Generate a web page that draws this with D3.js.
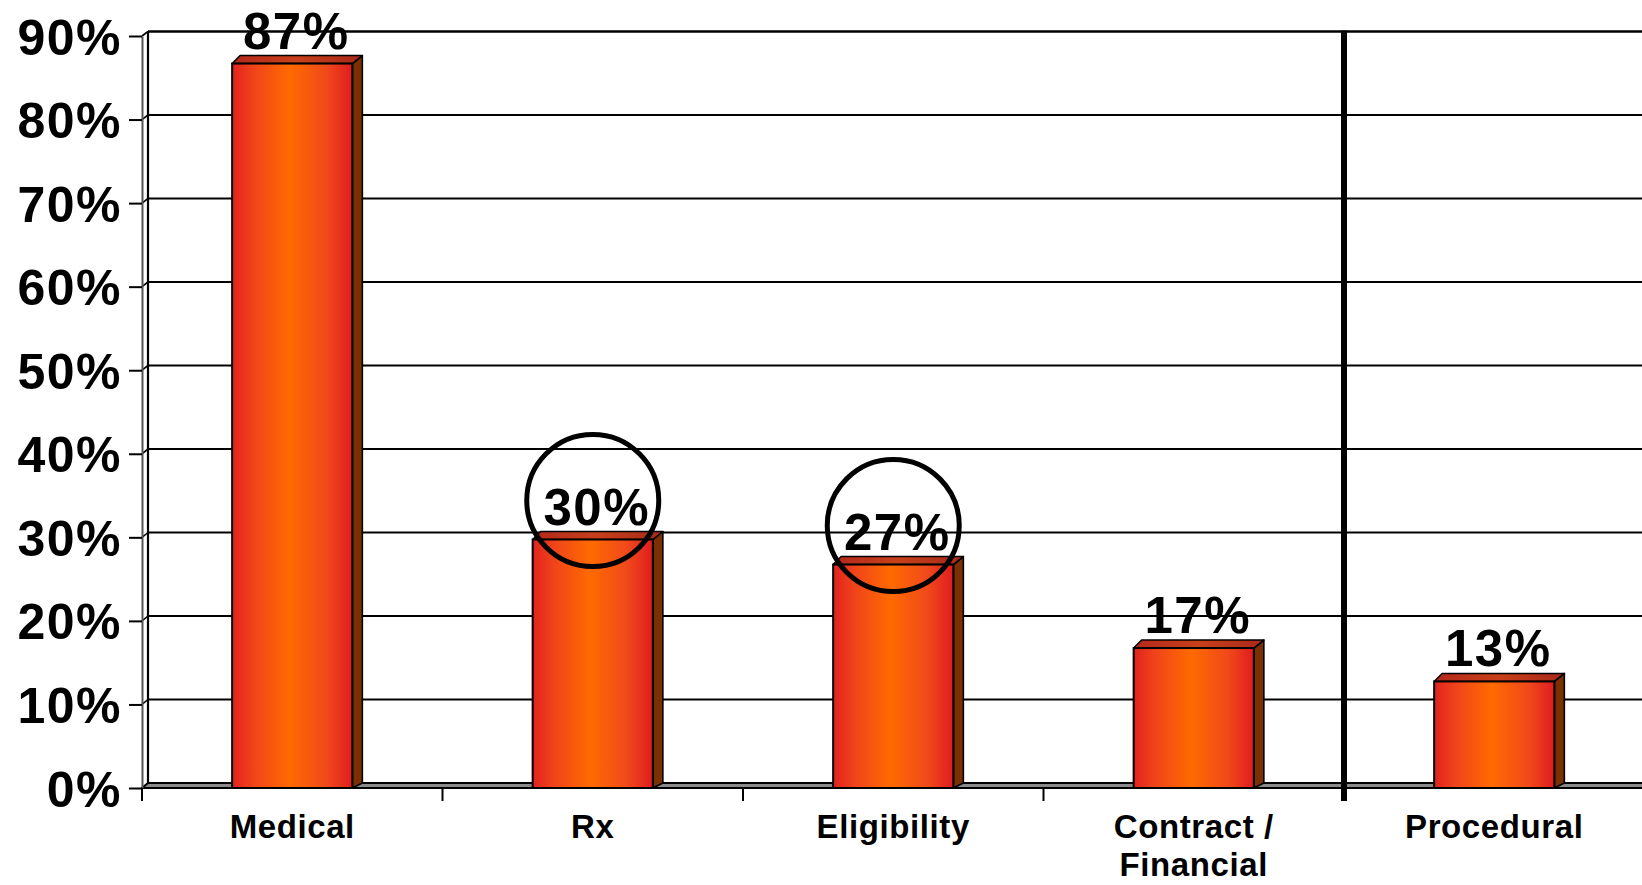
<!DOCTYPE html>
<html><head><meta charset="utf-8">
<script src="https://cdn.jsdelivr.net/npm/d3@7"></script>
<style>
html,body{margin:0;padding:0;background:#fff;overflow:hidden}
text{font-family:"Liberation Sans",Arial,Helvetica,sans-serif;font-weight:bold;fill:#000}
</style>
</head><body>
<svg id="chart" width="1642" height="885"></svg>
<script>
// Share of cases by category
const categories = ["Medical", "Rx", "Eligibility", "Contract / Financial", "Procedural"];
const values = [87, 30, 27, 17, 13];
const circled = ["Rx", "Eligibility"];
const yTicks = [0, 10, 20, 30, 40, 50, 60, 70, 80, 90];
const dividerBefore = "Procedural";

const W = 1642, H = 885;
const svg = d3.select("#chart");

// back-wall and front-plane value scales (3-D look: the front plane sits down-left of the wall)
const y = d3.scaleLinear().domain([0, 90]).range([783, 31.5]);
const yF = d3.scaleLinear().domain([0, 90]).range([788, 36]);
const x = d3.scaleBand().domain(categories).range([142, 142 + 5 * 300.5])
  .paddingInner(0.6).paddingOuter(0.3);
const bw = x.bandwidth();
const wallX = 148, frontX = 142;
const floorY = y(0), floorFrontY = yF(0);

// bar shading
const defs = svg.append("defs");
const grad = defs.append("linearGradient").attr("id", "barFace").attr("x1", 0).attr("x2", 1).attr("y1", 0).attr("y2", 0);
[[0, "#e2221f"], [0.18, "#f0441a"], [0.48, "#ff6a00"], [0.78, "#f04a1a"], [1, "#e01c1f"]]
  .forEach(([o, c]) => grad.append("stop").attr("offset", o).attr("stop-color", c));
const gradTop = defs.append("linearGradient").attr("id", "barTop").attr("x1", 0).attr("x2", 1);
[[0, "#b4281c"], [0.5, "#c8401a"], [1, "#a8281a"]]
  .forEach(([o, c]) => gradTop.append("stop").attr("offset", o).attr("stop-color", c));

// gridlines on the back wall
svg.append("g").selectAll("line").data(yTicks.filter(t => t > 0)).join("line")
  .attr("x1", wallX).attr("x2", W).attr("y1", d => y(d)).attr("y2", d => y(d))
  .attr("stroke", "#000").attr("stroke-width", d => d === 90 ? 2.6 : 2);

// back wall left edge
svg.append("line").attr("x1", wallX).attr("x2", wallX).attr("y1", y(0)).attr("y2", y(90))
  .attr("stroke", "#000").attr("stroke-width", 2.2);

// side-wall connectors from the front axis to the wall
svg.append("g").selectAll("line").data(yTicks).join("line")
  .attr("x1", frontX).attr("y1", d => yF(d)).attr("x2", wallX).attr("y2", d => y(d))
  .attr("stroke", "#000").attr("stroke-width", 1.6);

// floor
svg.append("path")
  .attr("d", `M${frontX},${floorFrontY}L${wallX},${floorY}L${W + 2},${floorY}L${W + 2},${floorFrontY}Z`)
  .attr("fill", "#8a8a8a").attr("stroke", "#000").attr("stroke-width", 2);

// value axis on the front plane
const yAxis = svg.append("g").attr("transform", `translate(${frontX},0)`)
  .call(d3.axisLeft(yF).tickValues(yTicks).tickSize(13).tickSizeOuter(0).tickPadding(7)
    .tickFormat(d => d + "%"));
yAxis.select(".domain").attr("stroke", "#555").attr("stroke-width", 2);
yAxis.selectAll(".tick line").attr("stroke", "#000").attr("stroke-width", 2);
yAxis.selectAll(".tick text").style("font-size", "50px").style("letter-spacing", "1.5px")
  .attr("dy", "0.36em").attr("fill", "#000");

// category axis: boundary ticks and labels
const bounds = d3.range(categories.length + 1).map(i => x.range()[0] + i * x.step());
svg.append("g").selectAll("line").data(bounds).join("line")
  .attr("x1", d => d).attr("x2", d => d).attr("y1", floorFrontY).attr("y2", floorFrontY + 13)
  .attr("stroke", "#000").attr("stroke-width", 2);
const catText = svg.append("g").selectAll("text").data(categories).join("text")
  .attr("text-anchor", "middle").style("font-size", "33px").style("letter-spacing", "0.6px")
  .attr("transform", d => `translate(${x(d) + bw / 2},838)`);
catText.each(function (d) {
  const lines = d.includes(" / ") ? [d.split(" / ")[0] + " /", d.split(" / ")[1]] : [d];
  d3.select(this).selectAll("tspan").data(lines).join("tspan")
    .attr("x", 0).attr("dy", (l, i) => i === 0 ? 0 : 38).text(l => l);
});

// 3-D columns
const data = categories.map((c, i) => ({ c, v: values[i] }));
const dx = 10, dy = 8;
const bars = svg.append("g").selectAll("g").data(data).join("g");
bars.append("path") // side
  .attr("d", d => {
    const xr = x(d.c) + bw, yt = y(d.v) + 7;
    return `M${xr},${yt}L${xr + dx},${yt - dy}L${xr + dx},${floorY}L${xr},${floorFrontY}Z`;
  })
  .attr("fill", "#7a3000").attr("stroke", "#000").attr("stroke-width", 1.6).attr("stroke-linejoin", "round");
bars.append("path") // top
  .attr("d", d => {
    const xl = x(d.c), xr = xl + bw, yt = y(d.v) + 7;
    return `M${xl},${yt}L${xr},${yt}L${xr + dx},${yt - dy}L${xl + dx - 2},${yt - dy}Z`;
  })
  .attr("fill", "url(#barTop)").attr("stroke", "#000").attr("stroke-width", 1.6).attr("stroke-linejoin", "round");
bars.append("rect") // front
  .attr("x", d => x(d.c)).attr("width", bw)
  .attr("y", d => y(d.v) + 7).attr("height", d => floorFrontY - (y(d.v) + 7))
  .attr("fill", "url(#barFace)").attr("stroke", "#000").attr("stroke-width", 2);

// value labels
svg.append("g").selectAll("text").data(data).join("text")
  .attr("text-anchor", "middle").style("font-size", "51px").style("letter-spacing", "1.5px")
  .attr("x", d => x(d.c) + bw / 2 + 4).attr("y", d => y(d.v) - 8)
  .text(d => d.v + "%");

// highlight rings
svg.append("g").selectAll("circle").data(data.filter(d => circled.includes(d.c))).join("circle")
  .attr("cx", d => x(d.c) + bw / 2).attr("cy", d => y(d.v) - 32).attr("r", 66)
  .attr("fill", "none").attr("stroke", "#000").attr("stroke-width", 5);

// divider before the last category
const divX = x(dividerBefore) - x.step() * x.paddingInner() / 2;
svg.append("line").attr("x1", divX).attr("x2", divX).attr("y1", y(90) - 1).attr("y2", floorFrontY + 13)
  .attr("stroke", "#000").attr("stroke-width", 6);
</script>
</body></html>
